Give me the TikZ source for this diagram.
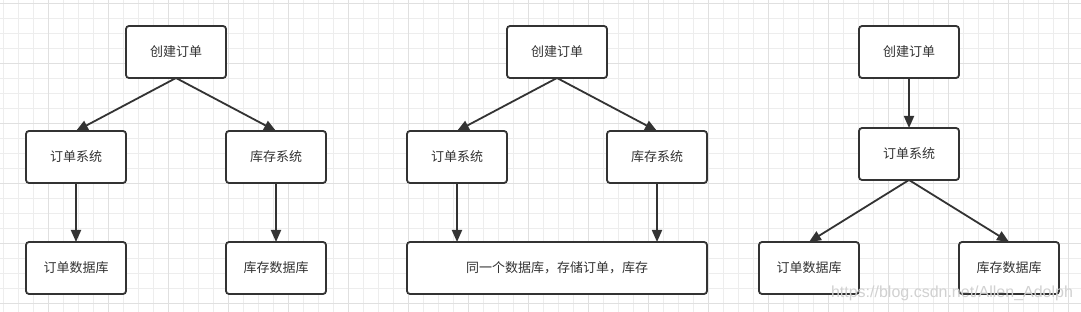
\documentclass[tikz,border=0pt]{standalone}
\usepackage{fontspec}
\newfontfamily\cjk{Noto Sans CJK SC}
\setsansfont{Liberation Sans}
\usepackage{tikz}
\usetikzlibrary{arrows.meta}
\definecolor{ink}{HTML}{333333}
\definecolor{gridminor}{HTML}{EDEDED}
\definecolor{gridmajor}{HTML}{E0E0E0}

\begin{document}
\begin{tikzpicture}[x=1pt,y=-1pt,
  box/.style={rectangle,draw=ink,line width=1.8pt,rounded corners=3pt,fill=white,
    minimum width=100pt,minimum height=52pt,inner sep=0pt,outer sep=0pt,
    text=ink,font=\cjk\fontsize{13}{15}\selectfont},
  wide/.style={box,minimum width=300pt},
  a/.style={-{Triangle[length=12pt,width=10pt]},draw=ink,line width=1.8pt},
  minor/.style={draw=gridminor,line width=1pt},
  major/.style={draw=gridmajor,line width=1pt},
  wmark/.style={font=\sffamily\fontsize{16}{18}\selectfont,text=black!18}]

\useasboundingbox (0,0) rectangle (1081,312);
\fill[white] (0,0) rectangle (1081,312);

% background grid
\foreach \gx in {3.3,18.3,...,1081} \draw[minor] (\gx,0) -- (\gx,312);
\foreach \gy in {3.3,18.3,...,312} \draw[minor] (0,\gy) -- (1081,\gy);
\foreach \gx in {48.3,108.3,...,1081} \draw[major] (\gx,0) -- (\gx,312);
\foreach \gy in {3.3,63.3,...,312} \draw[major] (0,\gy) -- (1081,\gy);

% left: each system has its own database
\node[box] (t1) at (176,52) {创建订单};
\node[box] (o1) at (76,157) {订单系统};
\node[box] (s1) at (276,157) {库存系统};
\node[box] (od1) at (76,268) {订单数据库};
\node[box] (sd1) at (276,268) {库存数据库};
\draw[a] (t1.south) -- (o1.north); \draw[a] (t1.south) -- (s1.north);
\draw[a] (o1) -- (od1); \draw[a] (s1) -- (sd1);

% middle: both systems share one database
\node[box] (t2) at (557,52) {创建订单};
\node[box] (o2) at (457,157) {订单系统};
\node[box] (s2) at (657,157) {库存系统};
\node[wide] (db2) at (557,268) {同一个数据库，存储订单，库存};
\draw[a] (t2.south) -- (o2.north); \draw[a] (t2.south) -- (s2.north);
\draw[a] (o2.south) -- (o2.south |- db2.north); \draw[a] (s2.south) -- (s2.south |- db2.north);

% right: one system writes both databases
\node[box] (t3) at (909,52) {创建订单};
\node[box] (o3) at (909,154) {订单系统};
\node[box] (od3) at (809,268) {订单数据库};
\node[box] (sd3) at (1009,268) {库存数据库};
\draw[a] (t3) -- (o3);
\draw[a] (o3.south) -- (od3.north); \draw[a] (o3.south) -- (sd3.north);

\node[wmark] (wm) at (952,293) {https://blog.csdn.net/Allen\_Adolph};
\end{tikzpicture}
\end{document}
